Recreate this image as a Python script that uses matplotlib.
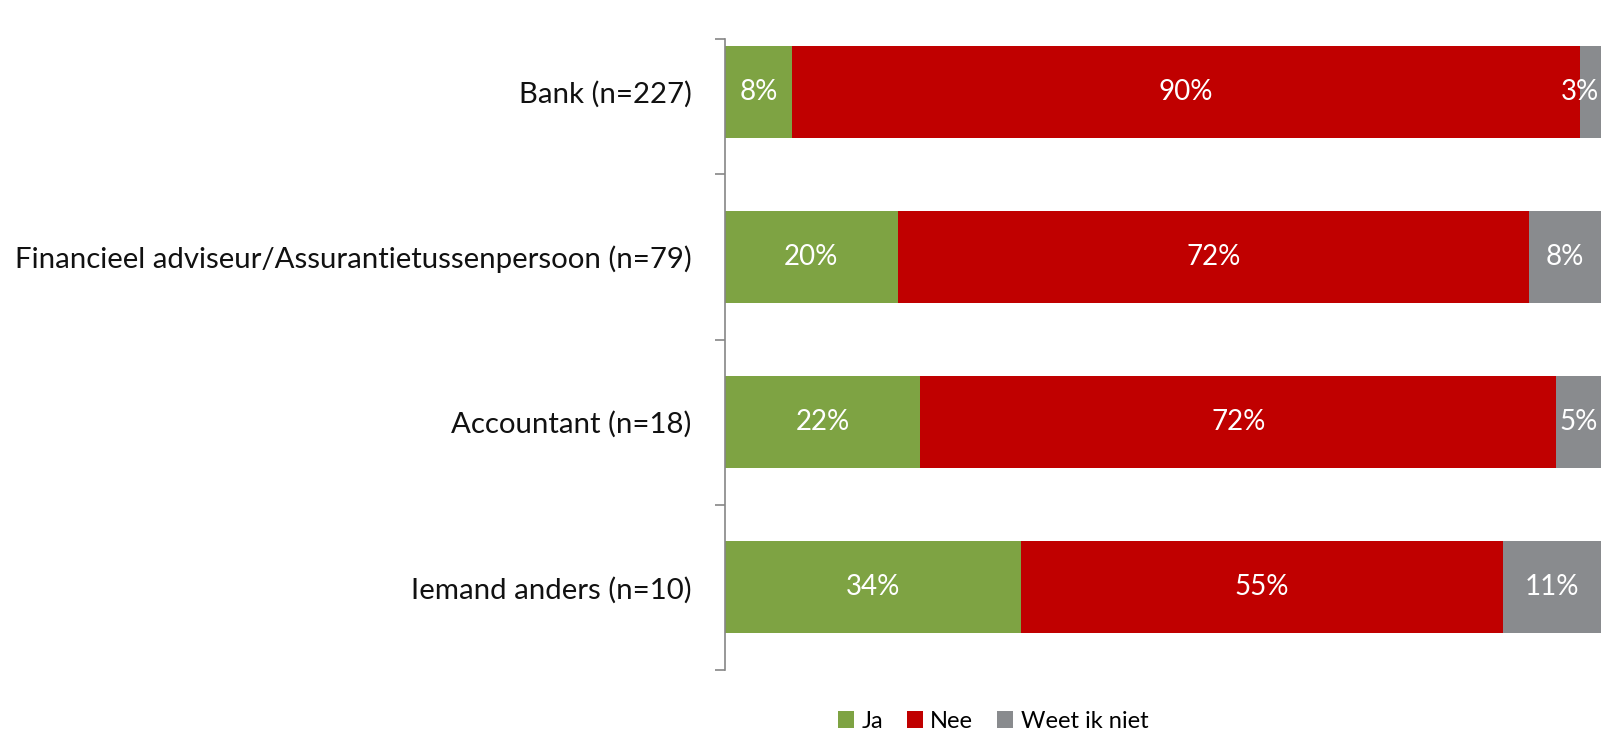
import numpy as np
import matplotlib
matplotlib.use("Agg")
import matplotlib.pyplot as plt

plt.rcParams['font.family'] = ['Lato', 'DejaVu Sans']

# data (shares in %) + printed labels
categories = ["Bank (n=227)",
              "Financieel adviseur/Assurantietussenpersoon (n=79)",
              "Accountant (n=18)",
              "Iemand anders (n=10)"]
ja = [7.7, 19.7, 22.3, 33.8]
nee = [89.9, 72.1, 72.6, 55.0]
weet = [2.4, 8.2, 5.1, 11.2]
ja_lbl = ["8%", "20%", "22%", "34%"]
nee_lbl = ["90%", "72%", "72%", "55%"]
weet_lbl = ["3%", "8%", "5%", "11%"]
series = ["Ja", "Nee", "Weet ik niet"]
colors = ["#7EA343", "#C00000", "#898B8E"]

fig = plt.figure(figsize=(16.01, 7.32), dpi=100)
ax = fig.add_axes([725 / 1601, 1 - 670 / 732, 876 / 1601, 631 / 732])

y = np.arange(len(categories))
left = np.zeros(len(categories))
for vals, lbls, name, col in zip([ja, nee, weet], [ja_lbl, nee_lbl, weet_lbl], series, colors):
    ax.barh(y, vals, left=left, height=0.557, color=col, label=name)
    for yi, l, v, s in zip(y, left, vals, lbls):
        xc = l + v / 2
        if xc > 98:
            # too narrow at the edge: keep the label inside the plot
            ax.text(99.8, yi, s, ha="right", va="center", color="white", fontsize=20)
        else:
            ax.text(xc, yi, s, ha="center", va="center", color="white", fontsize=20)
    left = left + np.array(vals)

ax.set_xlim(0, 100)
y_top = -0.32
ax.set_ylim(3.5, y_top)
ax.set_xticks([])
ax.set_yticks(y)
ax.set_yticklabels(categories, fontsize=21.2, color="#111111")
ax.tick_params(axis="y", which="major", length=0, pad=24)
ax.set_yticks([y_top, 0.5, 1.5, 2.5, 3.5], minor=True)
ax.tick_params(axis="y", which="minor", length=7, color="#868686", width=1.2)

for s in ["top", "right", "bottom"]:
    ax.spines[s].set_visible(False)
ax.spines["left"].set_color("#868686")
ax.spines["left"].set_linewidth(1.2)

fig.legend(loc="center", bbox_to_anchor=(993 / 1601, 1 - 721 / 732), ncol=3,
           frameon=False, fontsize=17, handlelength=0.7, handleheight=0.7,
           handletextpad=0.3, columnspacing=1.0)

fig.savefig("out.png", dpi=100)
